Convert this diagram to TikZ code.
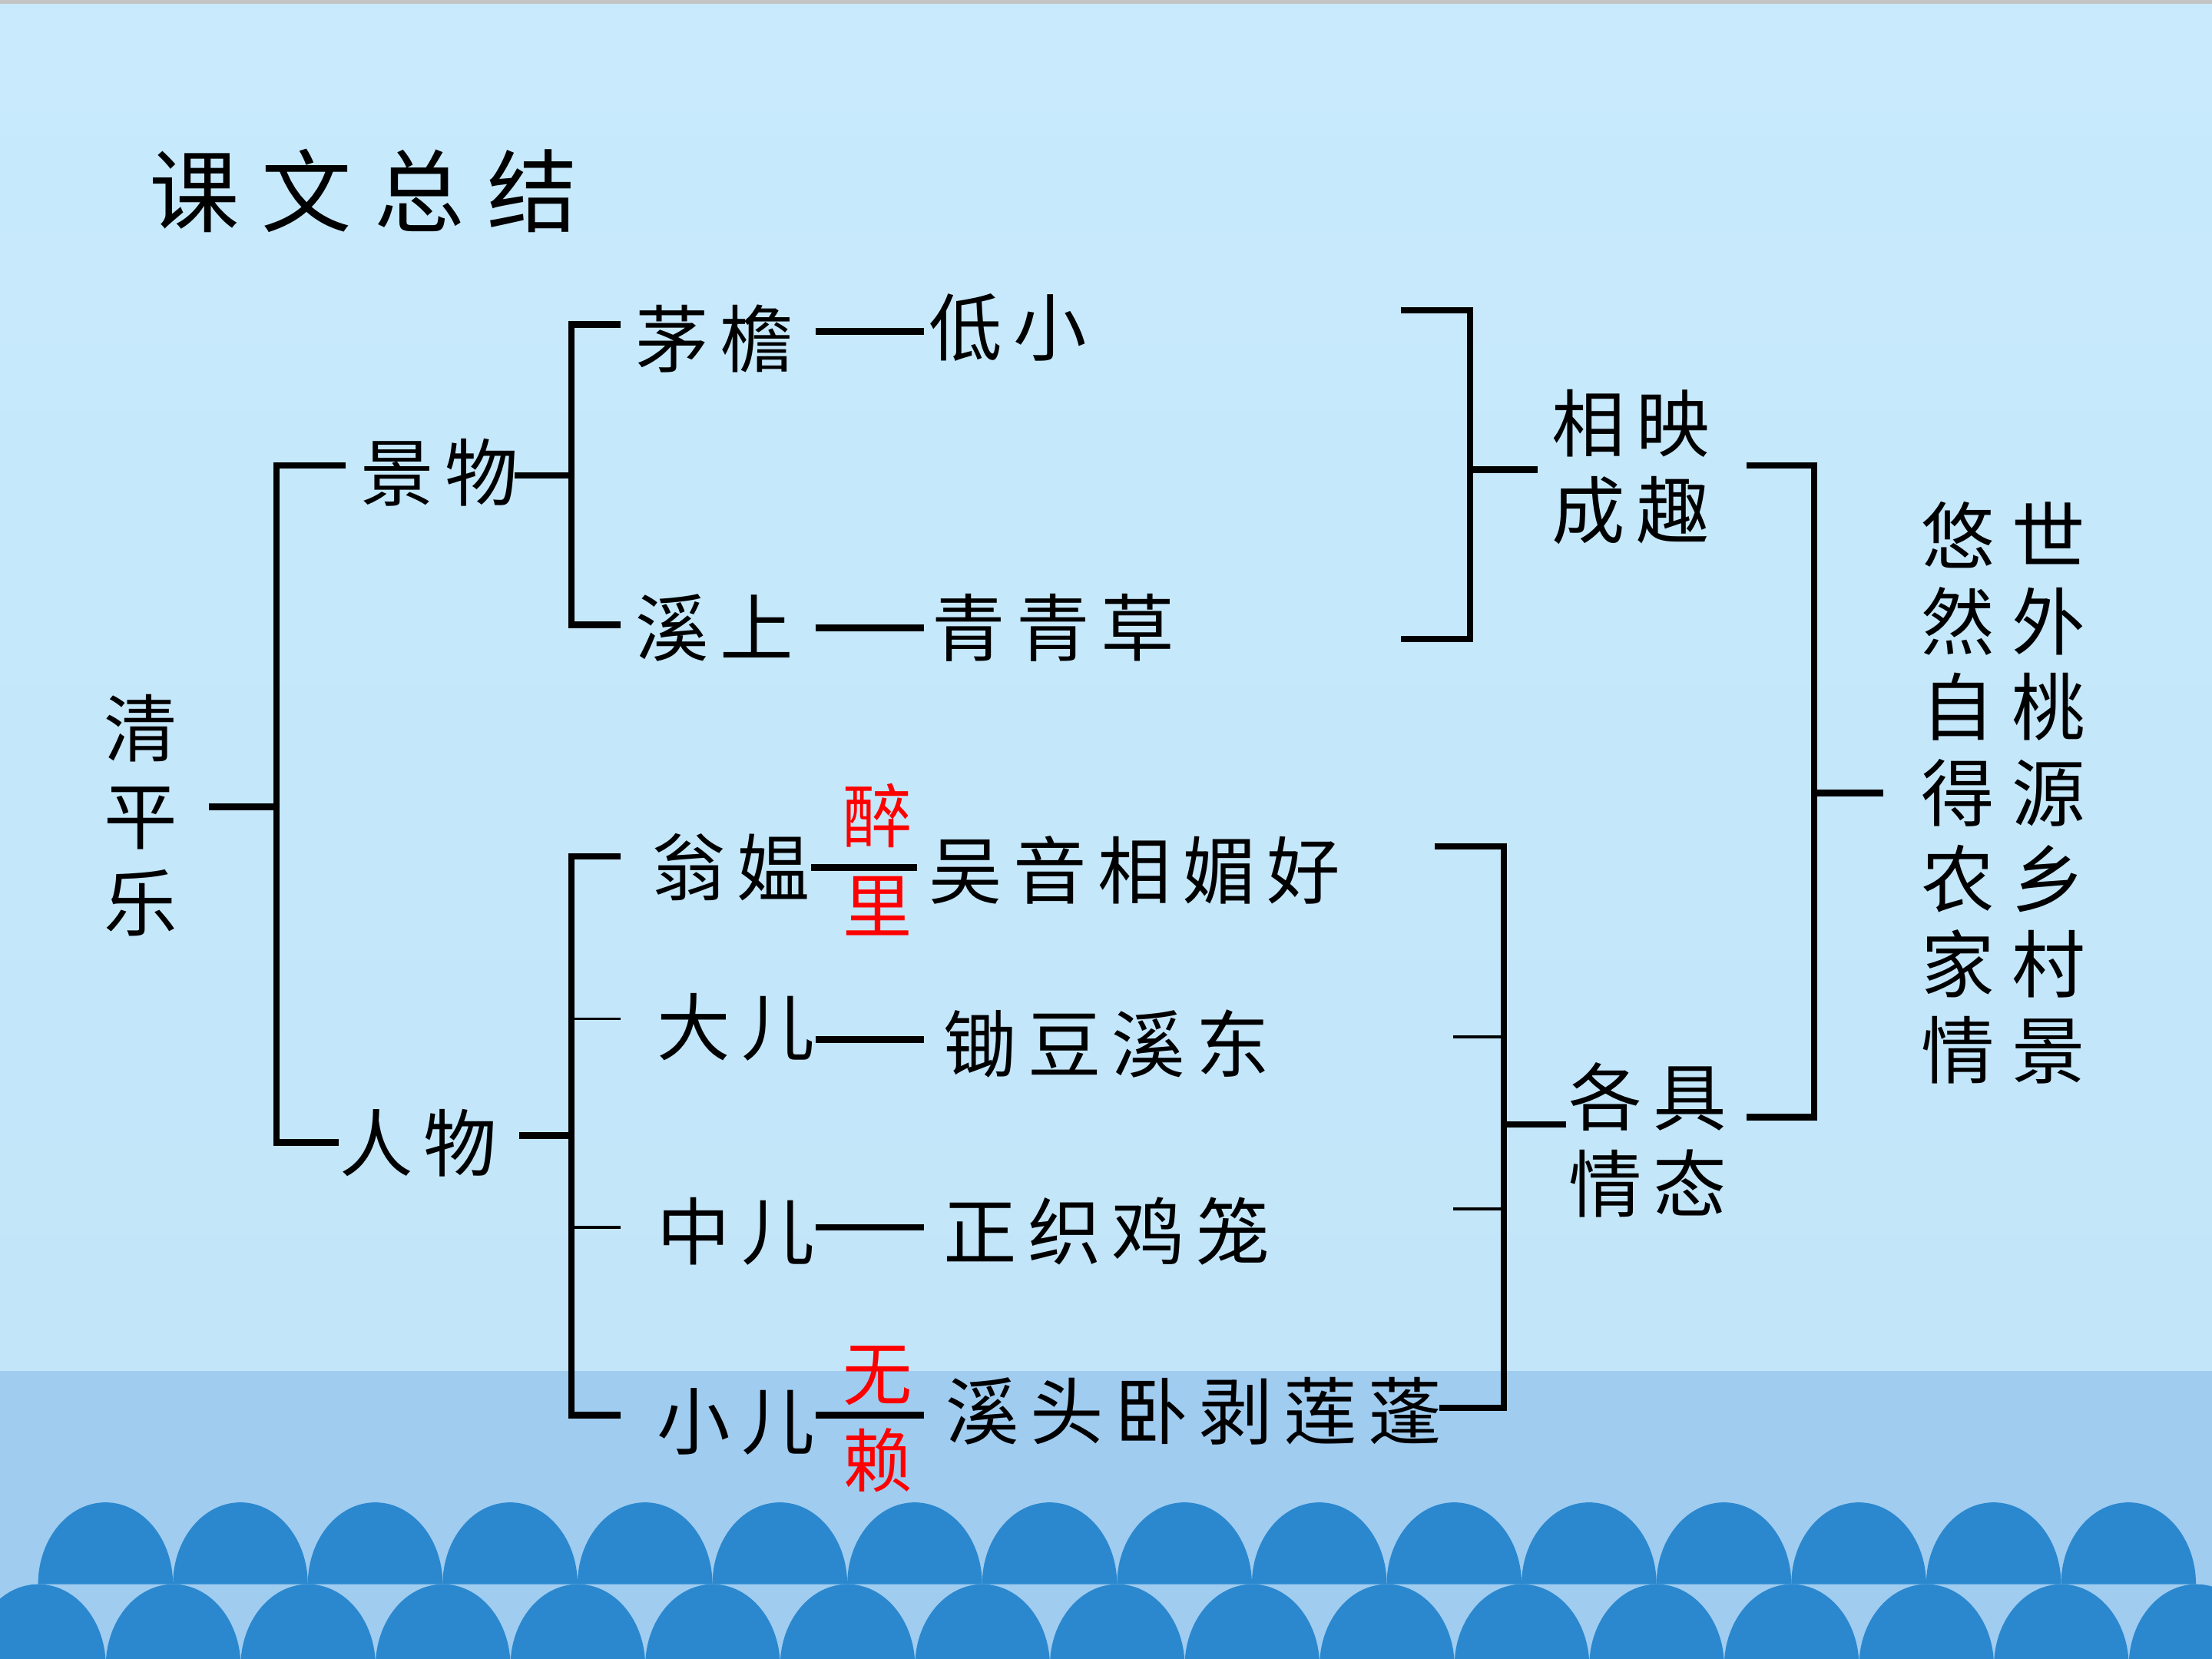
\documentclass[tikz,border=0pt]{standalone}
\usepackage{fontspec}
\newfontfamily\cjk{Noto Sans CJK SC}[LetterSpace=15]
\newfontfamily\cjkwide{Noto Sans CJK SC}[LetterSpace=24]
\newfontfamily\cjktitle{Noto Sans CJK SC}[LetterSpace=25]
\definecolor{skytop}{HTML}{C8EAFC}
\definecolor{skybot}{HTML}{C2E5F9}
\definecolor{seaband}{HTML}{A0CCF0}
\definecolor{wave}{HTML}{2B88CE}
\definecolor{topgrey}{HTML}{C4C4C4}
\tikzset{
  txt/.style={inner sep=0pt, align=center, font=\cjk\fontsize{14.8}{17.6}\selectfont},
  redtxt/.style={inner sep=0pt, text=red, font=\cjk\fontsize{14}{16}\selectfont},
  brk/.style={line width=1.35pt},
  thinbrk/.style={line width=0.5pt},
  link/.style={line width=1.35pt},
}
\begin{document}
\begin{tikzpicture}
\useasboundingbox (0,0) rectangle (15.68,-11.76);
% background and sea
\fill[top color=skytop, bottom color=skybot] (0,0) rectangle (15.68,-9.72);
\fill[seaband] (0,-9.72) rectangle (15.68,-11.76);
\fill[topgrey] (0,0) rectangle (15.68,-0.025);
\begin{scope}
  \clip (0,-9.72) rectangle (15.68,-11.76);
  \foreach \k in {0,...,15}
    \fill[wave] ({0.27+0.956*\k},-11.23) arc[start angle=180, end angle=0, x radius=0.478, y radius=0.58] -- cycle;
  \foreach \k in {0,...,16}
    \fill[wave] ({-0.206+0.956*\k},-11.81) arc[start angle=180, end angle=0, x radius=0.478, y radius=0.58] -- cycle;
\end{scope}

% title
\node[inner sep=0pt, anchor=west, font=\cjktitle\fontsize{18.2}{20}\selectfont] (title) at (1.05,-1.35) {课文总结};

% left tree
\node[txt] (qpl) at (1.00,-5.78) {清\\平\\乐};
\node[txt, anchor=west] (jingwu) at (2.55,-3.35) {景物};
\node[txt, anchor=west] (renwu) at (2.40,-8.10) {人物};

\node[txt, anchor=west] (maoyan) at (4.50,-2.40) {茅檐};
\node[txt, anchor=west] (dixiao) at (6.58,-2.32) {低小};
\node[txt, anchor=west] (xishang) at (4.50,-4.45) {溪上};
\node[txt, anchor=west] (qingcao) at (6.60,-4.45) {青青草};

\node[txt, anchor=west] (wengao) at (4.62,-6.15) {翁媪};
\node[txt, anchor=west] (wuyin) at (6.58,-6.17) {吴音相媚好};
\node[redtxt] (zui) at (6.22,-5.78) {醉};
\node[redtxt] (li) at (6.22,-6.42) {里};
\node[txt, anchor=west] (daer) at (4.65,-7.28) {大儿};
\node[txt, anchor=west] (chudou) at (6.68,-7.40) {锄豆溪东};
\node[txt, anchor=west] (zhonger) at (4.65,-8.73) {中儿};
\node[txt, anchor=west] (zhiji) at (6.68,-8.73) {正织鸡笼};
\node[txt, anchor=west] (xiaoer) at (4.65,-10.08) {小儿};
\node[txt, anchor=west] (woba) at (6.70,-10.00) {溪头卧剥莲蓬};
\node[redtxt] (wu) at (6.22,-9.75) {无};
\node[redtxt] (lai) at (6.22,-10.35) {赖};

% right side
\node[txt] (xiangying) at (11.56,-3.31) {相映\\成趣};
\node[txt] (geju) at (11.68,-8.08) {各具\\情态};
\node[txt, font=\cjkwide\fontsize{14.8}{17.3}\selectfont] (youran) at (14.20,-5.62) {悠世\\然外\\自桃\\得源\\农乡\\家村\\情景};

% root bracket
\coordinate (rootin) at (1.48,-5.72);
\coordinate (rootsp) at (1.96,-5.72);
\coordinate (rootup) at (2.45,-3.30);
\draw[brk] (rootin) -- (rootsp);
\draw[brk] (rootup) -| (rootsp) |- (renwu.west);

% scenery bracket
\coordinate (jwout) at (3.65,-3.37);
\coordinate (jwsp) at (4.05,-3.37);
\coordinate (myin) at (4.40,-2.30);
\coordinate (xsin) at (4.40,-4.43);
\draw[brk] (jwout) -- (jwsp);
\draw[brk] (myin) -| (jwsp) |- (xsin);
\draw[link] (5.78,-2.35) coordinate (mya) -- (6.55,-2.35) coordinate (myb);
\draw[link] (5.78,-4.45) coordinate (xsa) -- (6.55,-4.45) coordinate (xsb);

% people bracket
\coordinate (rwout) at (3.68,-8.05);
\coordinate (rwsp) at (4.05,-8.05);
\coordinate (wgin) at (4.40,-6.07);
\coordinate (xein) at (4.40,-10.03);
\draw[brk] (rwout) -- (rwsp);
\draw[brk] (wgin) -| (rwsp) |- (xein);
\draw[thinbrk] (4.05,-7.22) -- (4.40,-7.22);
\draw[thinbrk] (4.05,-8.70) -- (4.40,-8.70);
\draw[link] (5.75,-6.15) coordinate (wga) -- (6.50,-6.15) coordinate (wgb);
\draw[link] (5.78,-7.37) coordinate (dea) -- (6.55,-7.37) coordinate (deb);
\draw[link] (5.78,-8.70) coordinate (zea) -- (6.55,-8.70) coordinate (zeb);
\draw[link] (5.78,-10.03) coordinate (xea) -- (6.55,-10.03) coordinate (xeb);

% right brackets
\coordinate (b1top) at (9.93,-2.20);
\coordinate (b1bot) at (9.93,-4.53);
\coordinate (b1mid) at (10.42,-3.33);
\draw[brk] (b1top) -| (b1mid) |- (b1bot);
\draw[brk] (b1mid) -- (10.90,-3.33) coordinate (b1out);

\coordinate (b3top) at (10.17,-6.00);
\coordinate (b3bot) at (10.20,-9.98);
\coordinate (b3mid) at (10.66,-7.97);
\draw[brk] (b3top) -| (b3mid) |- (b3bot);
\draw[thinbrk] (10.30,-7.35) -- (10.66,-7.35);
\draw[thinbrk] (10.30,-8.57) -- (10.66,-8.57);
\draw[brk] (b3mid) -- (11.10,-7.97) coordinate (b3out);

\coordinate (b2top) at (12.38,-3.30);
\coordinate (b2bot) at (12.38,-7.92);
\coordinate (b2mid) at (12.86,-5.62);
\draw[brk] (b2top) -| (b2mid) |- (b2bot);
\draw[brk] (b2mid) -- (13.35,-5.62) coordinate (b2out);
\end{tikzpicture}
\end{document}
